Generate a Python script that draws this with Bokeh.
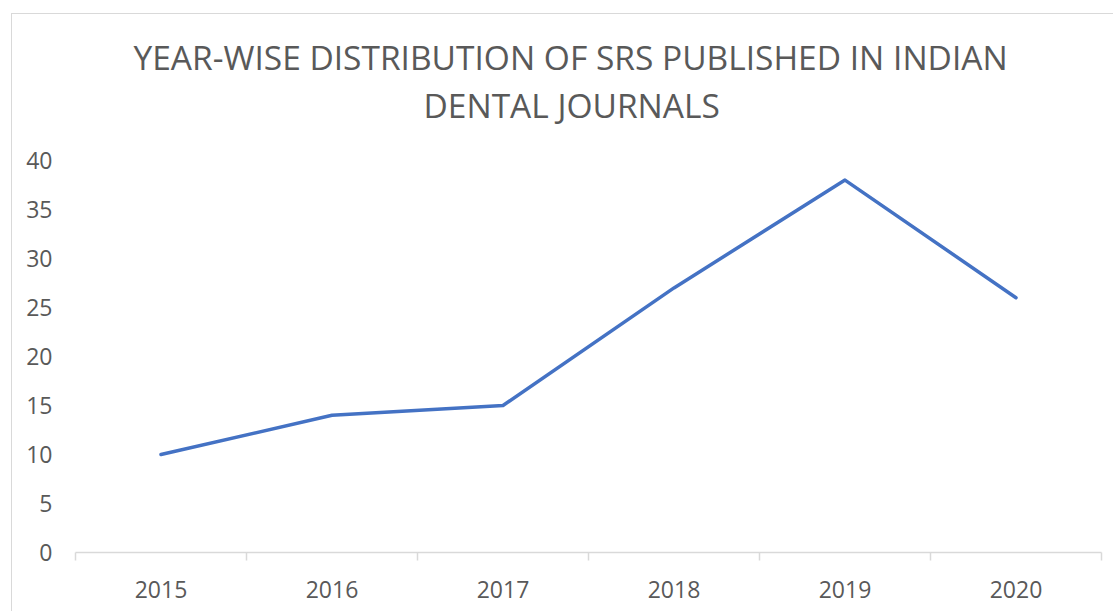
from bokeh.plotting import figure
from bokeh.models import Range1d, FixedTicker, Title
from bokeh.embed import file_html
from bokeh.resources import INLINE

years = ["2015", "2016", "2017", "2018", "2019", "2020"]
counts = [10, 14, 15, 27, 38, 26]
y_ticks = [0, 5, 10, 15, 20, 25, 30, 35, 40]
title_lines = ["YEAR-WISE DISTRIBUTION OF SRS PUBLISHED IN INDIAN", "DENTAL JOURNALS"]

n = len(years)
xs = list(range(n))

W, H = 1102, 598
p = figure(width=W, height=H, output_backend="svg", toolbar_location=None,
           title=None, x_range=Range1d(-0.5, n - 0.5), y_range=Range1d(0, 40),
           min_border_left=63, min_border_right=13, min_border_top=146, min_border_bottom=60)
p.margin = (13, 0, 0, 11)
p.styles = {"border-left": "1px solid #d9d9d9", "border-top": "1px solid #d9d9d9"}
p.outline_line_color = None
p.background_fill_color = "white"
p.border_fill_color = "white"
p.xgrid.visible = False
p.ygrid.visible = False

p.line(xs, counts, line_color="#4472C4", line_width=3.5, line_cap="round", line_join="round")

# x axis
xa = p.xaxis[0]
xa.ticker = FixedTicker(ticks=xs, minor_ticks=[i - 0.5 for i in range(n + 1)])
xa.major_label_overrides = {i: y for i, y in enumerate(years)}
xa.axis_line_color = "#d9d9d9"
xa.axis_line_width = 1.5
xa.major_tick_line_color = None
xa.major_tick_out = 0
xa.major_tick_in = 0
xa.minor_tick_line_color = "#d9d9d9"
xa.minor_tick_line_width = 1.5
xa.minor_tick_out = 8
xa.minor_tick_in = 0
xa.major_label_text_font = "Open Sans"
xa.major_label_text_font_size = "23px"
xa.major_label_text_color = "#595959"
xa.major_label_standoff = 20

# y axis
ya = p.yaxis[0]
ya.ticker = FixedTicker(ticks=y_ticks, minor_ticks=[])
ya.axis_line_color = None
ya.major_tick_line_color = None
ya.major_tick_out = 0
ya.major_tick_in = 0
ya.minor_tick_line_color = None
ya.major_label_text_font = "Open Sans"
ya.major_label_text_font_size = "23px"
ya.major_label_text_color = "#595959"
ya.major_label_standoff = 23

# invisible spacer between plot area and title
p.add_layout(Title(text=".", text_color="white", text_font="Open Sans",
                   text_font_size="43px", standoff=0), "above")

# title: second line nearest the frame, first line above it
for txt, off in zip(reversed(title_lines), [348, 58]):
    p.add_layout(Title(text=txt, align="left", offset=off, standoff=0,
                       text_font="Open Sans", text_font_size="33.5px",
                       text_font_style="normal", text_color="#595959"), "above")

open("out.html", "w").write(file_html(p, INLINE))
